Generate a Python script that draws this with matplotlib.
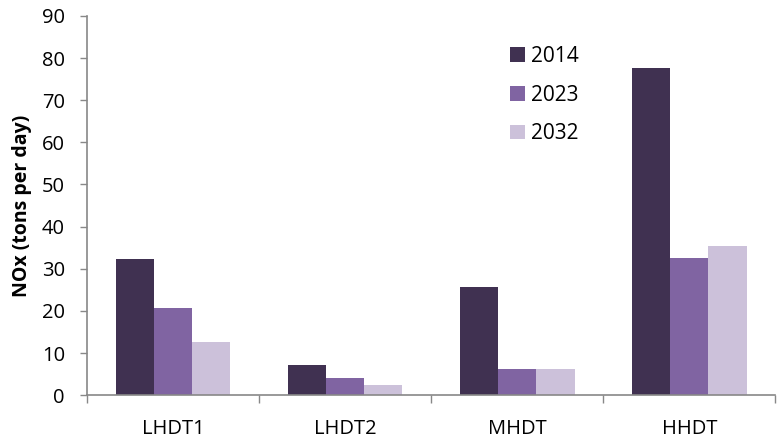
import matplotlib
matplotlib.use("Agg")
import matplotlib.pyplot as plt
import numpy as np

categories = ["LHDT1", "LHDT2", "MHDT", "HHDT"]
years = ["2014", "2023", "2032"]
nox_2014 = [32.4, 7.1, 25.6, 77.6]
nox_2023 = [20.8, 4.1, 6.2, 32.5]
nox_2032 = [12.7, 2.4, 6.2, 35.4]
colors = ["#403151", "#8064A2", "#CCC1DA"]

plt.rcParams['font.family'] = ['Open Sans', 'DejaVu Sans']

fig = plt.figure(figsize=(7.77, 4.43), dpi=100)
ax = fig.add_axes([0.112, 0.108, 0.886, 0.856])

x = np.arange(len(categories))
w = 0.222
for i, (vals, year) in enumerate(zip([nox_2014, nox_2023, nox_2032], years)):
    ax.bar(x + (i - 1) * w, vals, width=w, color=colors[i], label=year, linewidth=0)

ax.set_xlim(-0.5, len(categories) - 0.5)
ax.set_ylim(0, 90)
ax.set_yticks(range(0, 91, 10))
ax.tick_params(axis='y', labelsize=14.5, length=5, color='#888888', width=1, direction='out', pad=11)

# category labels centered, tick marks at boundaries
ax.set_xticks(x)
ax.set_xticklabels(categories, fontsize=14.5)
ax.tick_params(axis='x', length=0, pad=17)
ax.set_xticks(np.arange(-0.5, len(categories) + 0.5, 1), minor=True)
ax.tick_params(axis='x', which='minor', length=6, color='#888888', width=1, direction='out')

for s in ['top', 'right']:
    ax.spines[s].set_visible(False)
for s in ['left', 'bottom']:
    ax.spines[s].set_color('#888888')
    ax.spines[s].set_linewidth(1.2)

ax.set_ylabel("NOx (tons per day)", fontsize=14, fontweight='bold', labelpad=7)

ax.legend(loc='upper left', bbox_to_anchor=(510 / 777, 1 - 46 / 443), bbox_transform=fig.transFigure,
          frameon=False, fontsize=15, handlelength=0.7, handleheight=0.7, handletextpad=0.3,
          labelspacing=0.85, borderpad=0, borderaxespad=0)

fig.savefig("out.png", dpi=100)
